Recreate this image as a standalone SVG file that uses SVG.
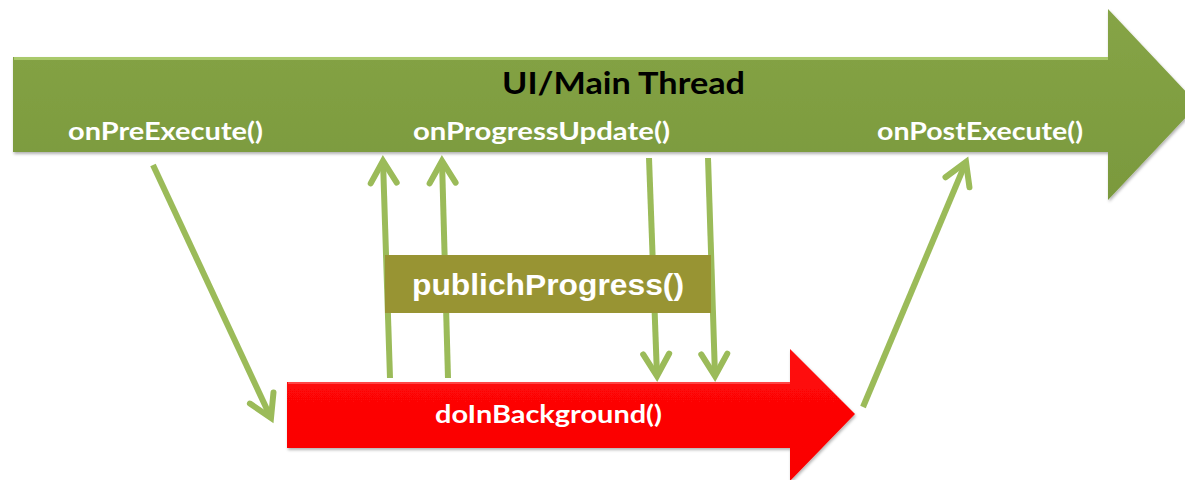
<svg xmlns="http://www.w3.org/2000/svg" width="1185" height="480" viewBox="0 0 1185 480">
  <style>
    .lbl { font-family: Lato, "Open Sans", "Liberation Sans", sans-serif; font-weight: bold; fill: #ffffff; }
    .title { font-family: Lato, "Open Sans", "Liberation Sans", sans-serif; font-weight: bold; fill: #000000; }
    .pp { font-family: "Liberation Sans", Arial, sans-serif; font-weight: bold; fill: #ffffff; }
    .conn { stroke: #9BBB59; stroke-width: 6; fill: none; marker-end: url(#chev); }
  </style>
  <defs>
    <marker id="chev" markerUnits="userSpaceOnUse" markerWidth="40" markerHeight="40" viewBox="-30 -20 40 40" refX="0" refY="0" orient="auto">
      <path d="M-22,-13 L0,0 L-22,13" fill="none" stroke="#9BBB59" stroke-width="6" stroke-linecap="round" stroke-linejoin="miter"/>
    </marker>
    <linearGradient id="gGreen" x1="0" y1="0" x2="0" y2="1">
      <stop offset="0" stop-color="#86A446"/>
      <stop offset="1" stop-color="#7A993D"/>
    </linearGradient>
    <linearGradient id="gRed" x1="0" y1="0" x2="0" y2="1">
      <stop offset="0" stop-color="#FF0A0A"/>
      <stop offset="1" stop-color="#FA0000"/>
    </linearGradient>
    <filter id="sh" x="-5%" y="-10%" width="110%" height="125%">
      <feDropShadow dx="1" dy="2" stdDeviation="1.5" flood-color="#000" flood-opacity="0.3"/>
    </filter>
  </defs>

  <rect width="1185" height="480" fill="#ffffff"/>

  <g id="main-thread">
    <polygon points="13,57 1108,57 1108,9 1198,104.5 1108,200 1108,152 13,152" fill="url(#gGreen)" filter="url(#sh)"/>
    <line x1="14" y1="58.5" x2="1108" y2="58.5" stroke="#A9C96B" stroke-width="3"/>
    <text class="title" x="502" y="94" font-size="31" textLength="243" lengthAdjust="spacingAndGlyphs">UI/Main Thread</text>
  </g>

  <g id="onPreExecute">
    <text class="lbl" x="68" y="140" font-size="24" textLength="195" lengthAdjust="spacingAndGlyphs">onPreExecute()</text>
  </g>
  <g id="onProgressUpdate">
    <text class="lbl" x="413" y="140" font-size="24" textLength="257" lengthAdjust="spacingAndGlyphs">onProgressUpdate()</text>
  </g>
  <g id="onPostExecute">
    <text class="lbl" x="877" y="140" font-size="24" textLength="206" lengthAdjust="spacingAndGlyphs">onPostExecute()</text>
  </g>

  <g id="doInBackground">
    <polygon points="287,382 790,382 790,349 855,414 790,481 790,448 287,448" fill="url(#gRed)" filter="url(#sh)"/>
    <line x1="288" y1="383" x2="790" y2="383" stroke="#FF4545" stroke-width="2"/>
    <text class="lbl" x="435" y="423" font-size="24" textLength="227" lengthAdjust="spacingAndGlyphs">doInBackground()</text>
  </g>

  <g id="connectors">
    <line class="conn" x1="153" y1="165" x2="271" y2="418"/>
    <line class="conn" x1="390" y1="378" x2="383" y2="161"/>
    <line class="conn" x1="448" y1="378" x2="442" y2="161"/>
    <line class="conn" x1="649" y1="158" x2="657" y2="376"/>
    <line class="conn" x1="708" y1="158" x2="715" y2="376"/>
    <line class="conn" x1="863" y1="407" x2="966" y2="162"/>
  </g>

  <g id="publichProgress">
    <rect x="385" y="255" width="326" height="58" fill="#989433"/>
    <text class="pp" x="412" y="295" font-size="29" textLength="272" lengthAdjust="spacingAndGlyphs">publichProgress()</text>
  </g>
</svg>
